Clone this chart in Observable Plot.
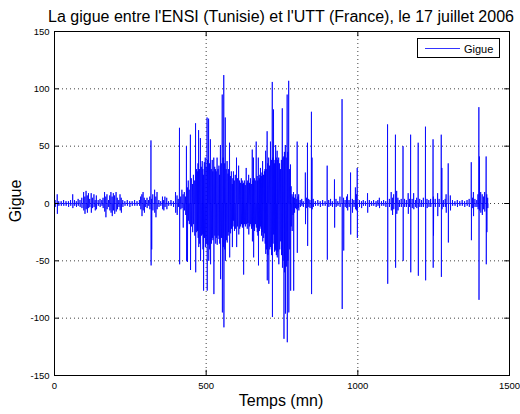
<!DOCTYPE html>
<html>
<head>
<meta charset="utf-8">
<script src="https://cdn.jsdelivr.net/npm/d3@7"></script>
<script src="https://cdn.jsdelivr.net/npm/@observablehq/plot@0.6"></script>
<style>
  html, body { margin: 0; padding: 0; background: #fff; }
  #chart { width: 520px; height: 414px; }
</style>
</head>
<body>
<div id="chart"></div>
<script>
// Axis ticks
const xTicks = [0, 500, 1000, 1500];
const yTicks = [-150, -100, -50, 0, 50, 100, 150];

// Jitter events: [minute, highest value, lowest value]
const quietStart = [
  [2, 3, -3], [9, 8, -9], [14, 2, -2], [22, 2, -2], [30, 3, -2], [38, 2, -2], [46, 2, -3], [53, 3, -2],
  [60, 8, -4], [66, 3, -2], [72, 2, -3], [78, 4, -2], [84, 3, -3], [90, 5, -4], [96, 10, -6], [100, 6, -9],
  [104, 11, -5], [108, 7, -8], [112, 9, -4], [116, 4, -3], [121, 9, -8], [125, 5, -4], [130, 8, -3],
  [134, 3, -6], [138, 7, -5], [144, 3, -2], [150, 4, -3], [156, 3, -2], [160, 5, -4], [165, 10, -7],
  [169, 6, -12], [173, 8, -5], [178, 3, -3], [182, 7, -6], [186, 10, -8], [190, 6, -11], [194, 9, -6],
  [198, 7, -9], [203, 10, -7], [207, 5, -5], [212, 3, -3], [216, 8, -6], [220, 5, -8], [225, 3, -3],
  [232, 2, -2], [240, 3, -2], [248, 2, -3], [256, 2, -2], [264, 3, -2], [272, 2, -2]
];
const rampUp = [
  [280, 3, -2], [284, 6, -5], [288, 8, -11], [292, 10, -6], [296, 5, -8], [300, 3, -3], [305, 5, -4],
  [310, 3, -2], [314, 6, -5], [318, 55, -54], [320, 4, -40], [324, 8, -6], [330, 12, -8], [334, 6, -12],
  [338, 10, -5], [344, 3, -3], [350, 2, -2], [356, 6, -5], [360, 3, -6], [364, 6, -3], [370, 5, -5],
  [376, 2, -2], [384, 3, -2], [392, 2, -3], [399, 10, -8], [404, 7, -10], [408, 4, -3], [412, 66, -53],
  [416, 6, -5], [420, 12, -4], [424, 8, -21], [428, 10, -6], [432, 6, -10], [435, 50, -50], [438, 14, -51],
  [441, 20, -15], [444, 12, -18], [448, 60, -58], [451, 22, -20], [455, 17, -25], [458, 25, -18],
  [462, 20, -28], [465, 70, -60], [468, 30, -25], [471, 28, -24], [473, 35, -30], [475, 64, -38],
  [478, 30, -35], [481, 57, -50], [484, 32, -28], [487, 37, -27], [489, 30, -40], [491, 25, -76],
  [494, 36, -30], [497, 40, -38], [500, 32, -35]
];
const burst = [
  [503, 75, -76], [505, 38, -36], [508, 74, -50], [511, 35, -40], [514, 56, -53], [517, 30, -35],
  [520, 38, -30], [522, 28, -32], [525, 40, -79], [528, 32, -28], [531, 30, -35], [533, 28, -30],
  [536, 40, -36], [539, 30, -28], [542, 33, -31], [544, 25, -35], [547, 51, -66], [550, 35, -30],
  [553, 95, -95], [556, 40, -38], [558, 112, -108], [561, 35, -40], [563, 75, -50], [566, 30, -32],
  [569, 37, -34], [572, 26, -28], [574, 30, -25], [577, 53, -47], [580, 24, -26], [583, 28, -22],
  [586, 17, -38], [588, 22, -20], [590, 28, -15], [593, 20, -24], [596, 25, -22], [600, 40, -38],
  [603, 22, -20], [607, 33, -27], [610, 20, -22], [613, 18, -20], [616, 22, -18], [619, 20, -21],
  [621, 17, -19], [623, 18, -62], [626, 20, -18], [629, 16, -20], [632, 31, -18], [635, 18, -22],
  [637, 20, -17], [640, 25, -27], [643, 18, -20], [646, 22, -18], [649, 17, -22], [652, 47, -33],
  [654, 20, -20], [656, 40, -47], [659, 22, -24], [662, 20, -18], [665, 54, -21], [668, 24, -25],
  [670, 20, -28], [672, 40, -54], [675, 22, -24], [677, 25, -22], [679, 31, -20], [682, 24, -28],
  [684, 27, -25], [686, 37, -33], [689, 25, -30], [692, 28, -26], [694, 30, -35], [696, 46, -44],
  [698, 30, -40], [701, 63, -67], [703, 35, -45], [706, 40, -70], [709, 33, -40], [712, 54, -38],
  [715, 38, -45], [718, 106, -99], [720, 40, -35], [722, 82, -27], [725, 35, -42], [727, 38, -40],
  [729, 51, -41], [731, 40, -45], [734, 46, -47], [736, 38, -42], [739, 40, -53], [742, 35, -40],
  [745, 30, -33], [748, 38, -45], [751, 83, -56], [753, 40, -50], [756, 41, -118], [758, 45, -60],
  [761, 51, -96], [764, 40, -55], [767, 95, -121], [769, 45, -50], [772, 107, -95], [775, 30, -40],
  [778, 34, -76], [780, 15, -20], [783, 8, -24], [786, 6, -10], [788, 10, -76], [791, 5, -8],
  [794, 8, -4], [797, 4, -5], [800, 54, -43]
];
const scattered = [
  [803, 6, -4], [805, 8, -6], [810, 3, -3], [815, 4, -2], [820, 2, -3], [827, 27, -18], [831, 5, -4],
  [834, 53, -37], [838, 4, -3], [842, 3, -4], [847, 80, -79], [849, 40, -5], [853, 4, -3], [860, 2, -2],
  [868, 3, -2], [876, 2, -3], [884, 3, -2], [892, 2, -2], [899, 33, -49], [904, 3, -3], [910, 4, -2],
  [916, 2, -3], [923, 21, -21], [928, 4, -3], [934, 2, -2], [941, 6, -3], [948, 91, -92], [953, 5, -41],
  [958, 3, -3], [963, 6, -4], [966, 8, -6], [971, 3, -3], [976, 27, -27], [982, 4, -8], [987, 3, -3],
  [992, 14, -5], [995, 8, -6], [998, 31, -30]
];
const tail = [
  [1005, 3, -3], [1012, 2, -4], [1018, 3, -2], [1025, 2, -2], [1032, 9, -8], [1038, 3, -3], [1045, 2, -2],
  [1052, 3, -2], [1060, 2, -3], [1066, 3, -2], [1071, 5, -4], [1078, 2, -2], [1085, 3, -2], [1092, 2, -3],
  [1098, 69, -70], [1104, 4, -3], [1110, 10, -6], [1114, 5, -10], [1118, 8, -5], [1124, 60, -56],
  [1128, 11, -9], [1132, 5, -6], [1137, 3, -3], [1143, 4, -3], [1149, 50, -50], [1154, 4, -3],
  [1160, 3, -3], [1166, 9, -9], [1170, 4, -3], [1174, 60, -60], [1179, 4, -4], [1184, 9, -5],
  [1190, 3, -3], [1194, 5, -4], [1199, 53, -63], [1204, 4, -3], [1210, 3, -3], [1216, 5, -3],
  [1223, 67, -67], [1228, 4, -4], [1234, 3, -3], [1240, 4, -3], [1248, 56, -56], [1249, 6, -28],
  [1255, 4, -3], [1263, 9, -11], [1268, 4, -3], [1275, 60, -64], [1277, 31, -5], [1282, 3, -3],
  [1288, 4, -3], [1291, 8, -8], [1298, 35, -34], [1305, 7, -6], [1312, 3, -2], [1320, 2, -2],
  [1328, 3, -3], [1336, 2, -2], [1344, 3, -2], [1352, 2, -3], [1360, 3, -2], [1367, 4, -3],
  [1374, 36, -32], [1378, 5, -4], [1381, 10, -11], [1386, 4, -3], [1392, 3, -3], [1396, 8, -5],
  [1399, 84, -84], [1401, 41, -6], [1405, 10, -8], [1410, 8, -10], [1414, 6, -5], [1418, 10, -7],
  [1423, 41, -53], [1425, 8, -25], [1428, 5, -4]
];

const titleText = "La gigue entre l'ENSI (Tunisie) et l'UTT (France), le 17 juillet 2006";
const xLabel = "Temps (mn)";
const yLabel = "Gigue";
const seriesName = "Gigue";

// Each event becomes a short up/down excursion of the jitter trace around 0
const samples = [...quietStart, ...rampUp, ...burst, ...scattered, ...tail].flatMap(([t, hi, lo]) => [
  {t: t - 0.5, v: 0}, {t, v: hi}, {t: t + 0.5, v: lo}, {t: t + 1, v: 0}
]);

const font = "'Liberation Sans', Arial, Helvetica, sans-serif";

const chart = Plot.plot({
  width: 520,
  height: 414,
  marginLeft: 54,
  marginRight: 11,
  marginTop: 31,
  marginBottom: 39,
  style: {fontFamily: font, fontSize: "10px", background: "#fff", color: "#000"},
  x: {domain: [0, 1500]},
  y: {domain: [-150, 150]},
  marks: [
    Plot.gridX(xTicks.slice(1, -1), {stroke: "#000", strokeOpacity: 0.75, strokeDasharray: "1,3", strokeWidth: 1}),
    Plot.gridY(yTicks.slice(1, -1), {stroke: "#000", strokeOpacity: 0.75, strokeDasharray: "1,3", strokeWidth: 1}),
    Plot.line(samples, {x: "t", y: "v", stroke: "#0000ff", strokeWidth: 0.8}),
    // inward ticks (bottom/top, left/right)
    Plot.ruleX(xTicks, {y1: -150, y2: -145.5, stroke: "#000"}),
    Plot.ruleX(xTicks, {y1: 150, y2: 145.5, stroke: "#000"}),
    Plot.ruleY(yTicks, {x1: 0, x2: 16, stroke: "#000"}),
    Plot.ruleY(yTicks, {x1: 1500, x2: 1484, stroke: "#000"}),
    Plot.frame({stroke: "#000", strokeWidth: 1}),
    Plot.axisX(xTicks, {tickSize: 0, tickPadding: 7, label: null, fontSize: 9.5, tickFormat: d => String(d)}),
    Plot.axisY(yTicks, {tickSize: 0, tickPadding: 5, label: null, fontSize: 9.5, tickFormat: d => String(d)})
  ]
});

const svg = d3.select(chart);
svg.append("text")
  .attr("x", 281).attr("y", 22)
  .attr("text-anchor", "middle")
  .attr("font-family", font).attr("font-size", 16)
  .text(titleText);
svg.append("text")
  .attr("x", 281).attr("y", 406)
  .attr("text-anchor", "middle")
  .attr("font-family", font).attr("font-size", 16)
  .text(xLabel);
svg.append("text")
  .attr("transform", "translate(21,201) rotate(-90)")
  .attr("text-anchor", "middle")
  .attr("font-family", font).attr("font-size", 16)
  .text(yLabel);
const legend = svg.append("g");
legend.append("rect")
  .attr("x", 417.5).attr("y", 38.5).attr("width", 82).attr("height", 19)
  .attr("fill", "#fff").attr("stroke", "#000");
legend.append("line")
  .attr("x1", 425).attr("x2", 460).attr("y1", 48.5).attr("y2", 48.5)
  .attr("stroke", "#0000ff").attr("stroke-width", 0.8);
legend.append("text")
  .attr("x", 464).attr("y", 52.5)
  .attr("text-anchor", "start")
  .attr("font-family", font).attr("font-size", 11)
  .text(seriesName);

document.getElementById("chart").appendChild(chart);
</script>
</body>
</html>
